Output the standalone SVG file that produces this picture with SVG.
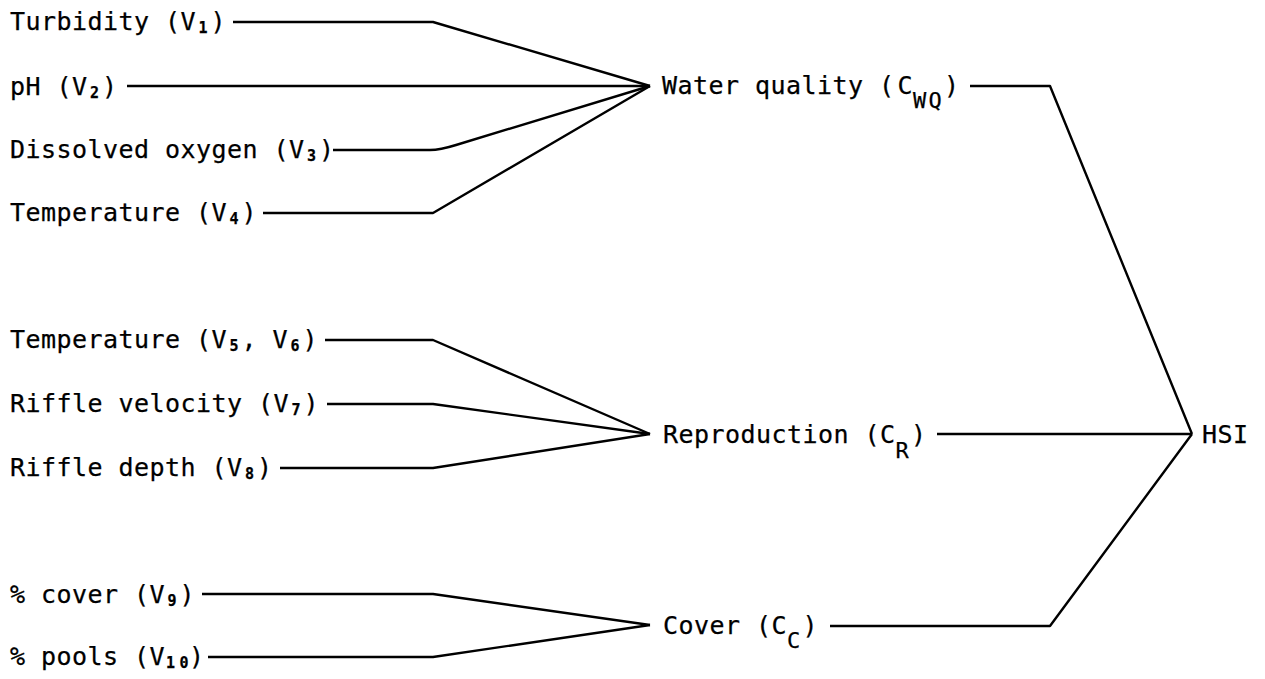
<svg xmlns="http://www.w3.org/2000/svg" width="1265" height="679" viewBox="0 0 1265 679">
  <style>
    .t { font-family: "DejaVu Sans Mono", "Liberation Mono", monospace; font-size: 25px; letter-spacing: 0.45px; fill: #000; stroke: #000; stroke-width: 0.25px; }
    .d { font-size: 15px; font-weight: bold; }
    .s { font-size: 22px; letter-spacing: 2.25px; }
    .c { fill: none; stroke: #000; stroke-width: 2.4; stroke-linejoin: round; stroke-linecap: butt; }
  </style>
  <rect width="1265" height="679" fill="#fff"/>

  <!-- connectors -->
  <g id="connectors" class="c">
    <path d="M233,22 H433 L650,86"/>
    <path d="M127,86 H650"/>
    <path d="M333,150 H430 Q440,150 456,145 L650,86"/>
    <path d="M263,213 H433 L650,86"/>
    <path d="M970,86 H1050 L1192,434"/>
    <path d="M325,340 H433 L650,434"/>
    <path d="M327,404 H433 L650,434"/>
    <path d="M280,468 H433 L650,434"/>
    <path d="M937,434 H1192"/>
    <path d="M202,594 H433 L650,625"/>
    <path d="M208,657 H433 L650,625"/>
    <path d="M830,626 H1050 L1192,434"/>
  </g>

  <!-- inputs: water quality -->
  <g id="v1"><text class="t" x="10" y="30">Turbidity (V<tspan class="d" dx="2.5" dy="2.5">1</tspan><tspan dx="2.5" dy="-2.5">)</tspan></text></g>
  <g id="v2"><text class="t" x="10" y="95">pH (V<tspan class="d" dx="2.5" dy="2.5">2</tspan><tspan dx="2.5" dy="-2.5">)</tspan></text></g>
  <g id="v3"><text class="t" x="10" y="158">Dissolved oxygen (V<tspan class="d" dx="2.5" dy="2.5">3</tspan><tspan dx="2.5" dy="-2.5">)</tspan></text></g>
  <g id="v4"><text class="t" x="10" y="221">Temperature (V<tspan class="d" dx="2.5" dy="2.5">4</tspan><tspan dx="2.5" dy="-2.5">)</tspan></text></g>

  <!-- inputs: reproduction -->
  <g id="v5-v6"><text class="t" x="10" y="348">Temperature (V<tspan class="d" dx="2.5" dy="2.5">5</tspan><tspan dx="2.5" dy="-2.5">, V</tspan><tspan class="d" dx="2.5" dy="2.5">6</tspan><tspan dx="2.5" dy="-2.5">)</tspan></text></g>
  <g id="v7"><text class="t" x="10" y="412">Riffle velocity (V<tspan class="d" dx="2.5" dy="2.5">7</tspan><tspan dx="2.5" dy="-2.5">)</tspan></text></g>
  <g id="v8"><text class="t" x="10" y="476">Riffle depth (V<tspan class="d" dx="2.5" dy="2.5">8</tspan><tspan dx="2.5" dy="-2.5">)</tspan></text></g>

  <!-- inputs: cover -->
  <g id="v9"><text class="t" x="10" y="603">% cover (V<tspan class="d" dx="2.5" dy="2.5">9</tspan><tspan dx="2.5" dy="-2.5">)</tspan></text></g>
  <g id="v10"><text class="t" x="10" y="665">% pools (V<tspan class="d" dx="1" dy="2.5">1</tspan><tspan class="d" dx="4">0</tspan><tspan dx="0" dy="-2.5">)</tspan></text></g>

  <!-- components -->
  <g id="cwq"><text class="t" x="662" y="94">Water quality (<tspan dx="3">C</tspan><tspan class="s" dy="14">WQ</tspan><tspan dy="-14">)</tspan></text></g>
  <g id="cr"><text class="t" x="663" y="443">Reproduction (C<tspan class="s" dy="15">R</tspan><tspan dy="-15">)</tspan></text></g>
  <g id="cc"><text class="t" x="663" y="634">Cover (C<tspan class="s" dy="14">C</tspan><tspan dy="-14">)</tspan></text></g>

  <!-- index -->
  <g id="hsi"><text class="t" x="1202" y="443">HSI</text></g>
</svg>
